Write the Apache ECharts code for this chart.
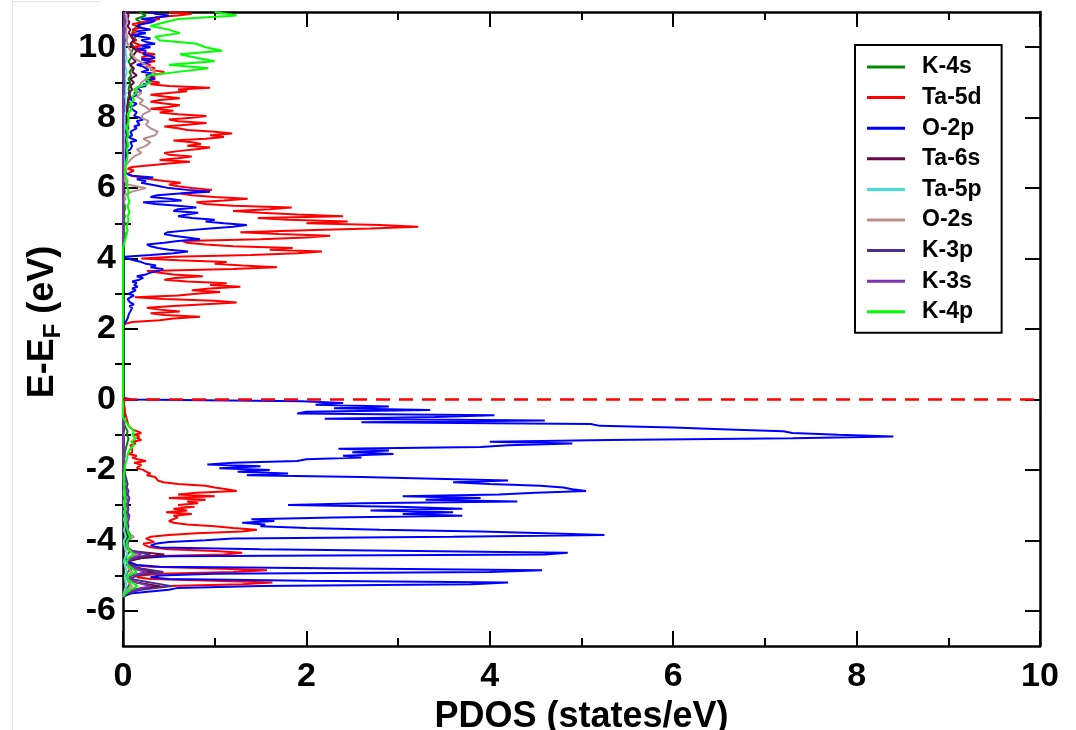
<!DOCTYPE html>
<html>
<head>
<meta charset="utf-8">
<title>PDOS</title>
<script src="https://cdn.jsdelivr.net/npm/echarts@6/dist/echarts.min.js"></script>
<style>
  html, body { margin: 0; padding: 0; background: #ffffff; }
  #chart { width: 1076px; height: 730px; }
</style>
</head>
<body>
<div id="chart"></div>
<script>
// Energy grids (eV, relative to E_F)
// fine grid for the two dominant projections, valence band top -> bottom
const energyVBfine = [
  0.05, 0, -0.05, -0.1, -0.15, -0.2, -0.25, -0.3, -0.35, -0.4,
  -0.45, -0.5, -0.55, -0.6, -0.65, -0.7, -0.75, -0.8, -0.85, -0.9,
  -0.95, -1, -1.05, -1.1, -1.15, -1.2, -1.25, -1.3, -1.35, -1.4,
  -1.45, -1.5, -1.55, -1.6, -1.65, -1.7, -1.75, -1.8, -1.85, -1.9,
  -1.95, -2, -2.05, -2.1, -2.15, -2.2, -2.25, -2.3, -2.35, -2.4,
  -2.45, -2.5, -2.55, -2.6, -2.65, -2.7, -2.75, -2.8, -2.85, -2.9,
  -2.95, -3, -3.05, -3.1, -3.15, -3.2, -3.25, -3.3, -3.35, -3.4,
  -3.45, -3.5, -3.55, -3.6, -3.65, -3.7, -3.75, -3.8, -3.85, -3.9,
  -3.95, -4, -4.05, -4.1, -4.15, -4.2, -4.25, -4.3, -4.35, -4.4,
  -4.45, -4.5, -4.55, -4.6, -4.65, -4.7, -4.75, -4.8, -4.85, -4.9,
  -4.95, -5, -5.05, -5.1, -5.15, -5.2, -5.25, -5.3, -5.35, -5.4,
  -5.45, -5.5, -5.55, -5.6
];
// fine grid, conduction band bottom -> top
const energyCBfine = [
  2, 2.05, 2.1, 2.15, 2.2, 2.25, 2.3, 2.35, 2.4, 2.45,
  2.5, 2.55, 2.6, 2.65, 2.7, 2.75, 2.8, 2.85, 2.9, 2.95,
  3, 3.05, 3.1, 3.15, 3.2, 3.25, 3.3, 3.35, 3.4, 3.45,
  3.5, 3.55, 3.6, 3.65, 3.7, 3.75, 3.8, 3.85, 3.9, 3.95,
  4, 4.05, 4.1, 4.15, 4.2, 4.25, 4.3, 4.35, 4.4, 4.45,
  4.5, 4.55, 4.6, 4.65, 4.7, 4.75, 4.8, 4.85, 4.9, 4.95,
  5, 5.05, 5.1, 5.15, 5.2, 5.25, 5.3, 5.35, 5.4, 5.45,
  5.5, 5.55, 5.6, 5.65, 5.7, 5.75, 5.8, 5.85, 5.9, 5.95,
  6, 6.05, 6.1, 6.15, 6.2, 6.25, 6.3, 6.35, 6.4, 6.45,
  6.5, 6.55, 6.6, 6.65, 6.7, 6.75, 6.8, 6.85, 6.9, 6.95,
  7, 7.05, 7.1, 7.15, 7.2, 7.25, 7.3, 7.35, 7.4, 7.45,
  7.5, 7.55, 7.6, 7.65, 7.7, 7.75, 7.8, 7.85, 7.9, 7.95,
  8, 8.05, 8.1, 8.15, 8.2, 8.25, 8.3, 8.35, 8.4, 8.45,
  8.5, 8.55, 8.6, 8.65, 8.7, 8.75, 8.8, 8.85, 8.9, 8.95,
  9, 9.05, 9.1, 9.15, 9.2, 9.25, 9.3, 9.35, 9.4, 9.45,
  9.5, 9.55, 9.6, 9.65, 9.7, 9.75, 9.8, 9.85, 9.9, 9.95,
  10, 10.05, 10.1, 10.15, 10.2, 10.25, 10.3, 10.35, 10.4, 10.45,
  10.5, 10.55, 10.6, 10.65, 10.7, 10.75, 10.8, 10.85, 10.9, 10.95,
  11
];
// coarse grid for the minor projections
const energyVBcoarse = [
  0, -0.1, -0.2, -0.3, -0.4, -0.5, -0.6, -0.7, -0.8, -0.9,
  -1, -1.1, -1.2, -1.3, -1.4, -1.5, -1.6, -1.7, -1.8, -1.9,
  -2, -2.1, -2.2, -2.3, -2.4, -2.5, -2.6, -2.7, -2.8, -2.9,
  -3, -3.1, -3.2, -3.3, -3.4, -3.5, -3.6, -3.7, -3.8, -3.9,
  -4, -4.1, -4.2, -4.3, -4.4, -4.5, -4.6, -4.7, -4.8, -4.9,
  -5, -5.1, -5.2, -5.3, -5.4, -5.5, -5.6
];
const energyCBcoarse = [
  2, 2.1, 2.2, 2.3, 2.4, 2.5, 2.6, 2.7, 2.8, 2.9,
  3, 3.1, 3.2, 3.3, 3.4, 3.5, 3.6, 3.7, 3.8, 3.9,
  4, 4.1, 4.2, 4.3, 4.4, 4.5, 4.6, 4.7, 4.8, 4.9,
  5, 5.1, 5.2, 5.3, 5.4, 5.5, 5.6, 5.7, 5.8, 5.9,
  6, 6.1, 6.2, 6.3, 6.4, 6.5, 6.6, 6.7, 6.8, 6.9,
  7, 7.1, 7.2, 7.3, 7.4, 7.5, 7.6, 7.7, 7.8, 7.9,
  8, 8.1, 8.2, 8.3, 8.4, 8.5, 8.6, 8.7, 8.8, 8.9,
  9, 9.1, 9.2, 9.3, 9.4, 9.5, 9.6, 9.7, 9.8, 9.9,
  10, 10.1, 10.2, 10.3, 10.4, 10.5, 10.6, 10.7, 10.8, 10.9,
  11
];

// O-2p (states/eV)
const o2pVB = [
  0, 0.1, 1.95, 2.4, 2.1, 2.9, 2.3, 3.35, 2.0, 1.9,
  4.05, 3.4, 2.2, 4.6, 2.6, 5.1, 5.2, 6.0, 6.6, 7.2,
  7.3, 7.8, 8.4, 7.3, 5.3, 4.0, 4.9, 4.2, 3.9, 2.35,
  2.9, 2.5, 2.95, 2.4, 2.6, 2.0, 1.9, 1.2, 0.92, 1.5,
  1.05, 1.6, 1.25, 1.8, 1.35, 2.6, 3.4, 4.2, 3.6, 4.0,
  4.55, 4.8, 4.9, 5.05, 4.5, 4.1, 3.05, 3.9, 3.3, 4.3,
  2.6, 1.8, 3.0, 3.7, 2.7, 3.6, 3.05, 3.7, 2.3, 1.4,
  1.65, 1.3, 1.55, 1.5, 2.0, 2.8, 3.9, 4.6, 5.25, 3.6,
  1.2, 0.9, 0.5, 0.35, 0.3, 0.4, 1.5, 3.2, 4.85, 4.6,
  0.5, 0.2, 0.1, 0.05, 0.1, 0.15, 0.4, 2.5, 4.57, 4.0,
  1.0, 0.4, 0.3, 0.5, 2.0, 4.2, 3.8, 1.5, 0.6, 0.5,
  0.3, 0.1, 0.02, 0
];
const o2pCB = [
  0, 0, 0, 0.01, 0.03, 0.02, 0.05, 0.04, 0.06, 0.05,
  0.08, 0.06, 0.1, 0.07, 0.12, 0.08, 0.1, 0.05, 0.08, 0.12,
  0.06, 0.1, 0.14, 0.1, 0.16, 0.12, 0.15, 0.1, 0.18, 0.22,
  0.15, 0.25, 0.3, 0.38, 0.44, 0.3, 0.36, 0.25, 0.2, 0.12,
  0.05, 0.02, 0.3, 0.55, 0.71, 0.5, 0.38, 0.3, 0.26, 0.45,
  0.6, 0.84, 0.7, 0.55, 0.45, 0.49, 0.7, 0.95, 1.2, 1.35,
  1.1, 0.9, 1.0, 0.75, 0.6, 0.7, 0.82, 0.55, 0.6, 0.8,
  0.6, 0.35, 0.22, 0.64, 0.5, 0.3, 0.37, 0.62, 0.95, 0.7,
  0.5, 0.4, 0.3, 0.2, 0.25, 0.15, 0.33, 0.1, 0.05, 0.02,
  0.01, 0.02, 0.01, 0.02, 0.03, 0.02, 0.04, 0.03, 0.05, 0.04,
  0.06, 0.05, 0.08, 0.06, 0.1, 0.12, 0.08, 0.15, 0.1, 0.06,
  0.1, 0.12, 0.08, 0.1, 0.15, 0.12, 0.18, 0.2, 0.15, 0.22,
  0.18, 0.12, 0.1, 0.15, 0.12, 0.1, 0.08, 0.12, 0.15, 0.1,
  0.12, 0.08, 0.1, 0.15, 0.12, 0.2, 0.18, 0.15, 0.25, 0.22,
  0.3, 0.25, 0.35, 0.3, 0.25, 0.35, 0.2, 0.28, 0.3, 0.22,
  0.15, 0.25, 0.3, 0.2, 0.35, 0.3, 0.22, 0.2, 0.25, 0.15,
  0.3, 0.2, 0.35, 0.25, 0.2, 0.3, 0.2, 0.1, 0.25, 0.15,
  0.3, 0.2, 0.15, 0.2, 0.3, 0.35, 0.2, 0.4, 0.5, 0.35,
  0.3
];

// Ta-5d
const ta5dVB = [
  0, 0, 0.01, 0.01, 0.01, 0.01, 0.02, 0.02, 0.02, 0.03,
  0.03, 0.03, 0.04, 0.04, 0.05, 0.05, 0.06, 0.08, 0.1, 0.15,
  0.2, 0.12, 0.18, 0.15, 0.2, 0.1, 0.14, 0.08, 0.12, 0.1,
  0.08, 0.1, 0.06, 0.15, 0.1, 0.16, 0.25, 0.12, 0.2, 0.15,
  0.15, 0.22, 0.25, 0.3, 0.26, 0.35, 0.4, 0.38, 0.44, 0.6,
  0.9, 1.0, 1.13, 1.24, 0.8, 0.6, 1.0, 0.5, 0.9, 0.7,
  0.82, 0.6, 0.78, 0.55, 0.7, 0.47, 0.75, 0.55, 0.6, 0.5,
  0.5, 0.55, 0.7, 1.0, 1.2, 1.46, 1.3, 0.8, 0.5, 0.3,
  0.25, 0.3, 0.34, 0.22, 0.25, 0.3, 0.5, 1.0, 1.3, 1.1,
  0.3, 0.1, 0.05, 0.03, 0.05, 0.1, 0.3, 1.0, 1.57, 1.2,
  0.4, 0.2, 0.15, 0.3, 1.0, 1.63, 1.3, 0.5, 0.2, 0.15,
  0.1, 0.05, 0.02, 0
];
const ta5dCB = [
  0, 0, 0, 0.03, 0.1, 0.4, 0.55, 0.84, 0.45, 0.3,
  0.62, 0.4, 0.26, 0.55, 0.9, 1.24, 1.0, 0.45, 0.13, 0.6,
  0.8, 1.06, 0.75, 0.95, 1.28, 0.95, 1.13, 0.7, 0.45, 0.57,
  0.87, 0.55, 0.4, 0.26, 1.2, 1.68, 1.3, 1.0, 1.13, 0.6,
  0.2, 0.55, 1.4, 1.9, 2.17, 1.6, 1.85, 1.2, 0.9, 0.7,
  0.65, 1.5, 2.0, 2.26, 1.7, 1.28, 1.9, 2.7, 3.22, 2.8,
  2.0, 2.45, 1.8, 1.47, 2.4, 1.9, 1.5, 1.2, 1.6, 1.84,
  1.2, 0.9, 0.8, 1.1, 1.36, 1.0, 0.75, 0.63, 0.8, 0.97,
  0.75, 0.6, 0.5, 0.63, 0.45, 0.3, 0.2, 0.1, 0.05, 0.08,
  0.12, 0.05, 0.1, 0.3, 0.5, 0.73, 0.4, 0.6, 0.75, 0.5,
  0.45, 0.6, 0.8, 0.95, 0.7, 0.85, 0.75, 0.55, 0.9, 1.1,
  0.95, 1.19, 1.0, 0.7, 0.6, 0.45, 0.7, 0.91, 0.6, 0.5,
  0.75, 0.91, 0.6, 0.4, 0.55, 0.3, 0.5, 0.62, 0.45, 0.3,
  0.4, 0.62, 0.45, 0.3, 0.5, 0.7, 0.6, 0.95, 0.5, 0.3,
  0.4, 0.25, 0.3, 0.35, 0.25, 0.4, 0.45, 0.3, 0.35, 0.25,
  0.3, 0.2, 0.35, 0.3, 0.2, 0.25, 0.35, 0.2, 0.15, 0.2,
  0.1, 0.2, 0.15, 0.1, 0.15, 0.1, 0.12, 0.08, 0.1, 0.15,
  0.1, 0.2, 0.15, 0.1, 0.2, 0.3, 0.4, 0.35, 0.6, 0.75,
  0.5
];

// K-4s
const k4sVB = [
  0, 0, 0, 0, 0, 0, 0, 0.01, 0.03, 0.05,
  0.04, 0.06, 0.05, 0.04, 0.03, 0.02, 0.02, 0.01, 0.01, 0.01,
  0.01, 0.01, 0.01, 0.01, 0.02, 0.01, 0.02, 0.01, 0.02, 0.02,
  0.01, 0.02, 0.02, 0.03, 0.02, 0.02, 0.03, 0.02, 0.03, 0.05,
  0.03, 0.02, 0.04, 0.08, 0.05, 0.03, 0.04, 0.06, 0.1, 0.05,
  0.03, 0.05, 0.08, 0.06, 0.03, 0.01, 0
];
const k4sCB = [
  0, 0, 0, 0, 0, 0, 0, 0, 0, 0,
  0, 0, 0, 0, 0, 0, 0, 0, 0, 0,
  0, 0, 0, 0, 0.01, 0.01, 0.01, 0.02, 0.01, 0.01,
  0.02, 0.01, 0.02, 0.01, 0.02, 0.02, 0.01, 0.02, 0.01, 0.02,
  0.01, 0.02, 0.01, 0.01, 0.02, 0.03, 0.02, 0.03, 0.04, 0.03,
  0.04, 0.03, 0.05, 0.04, 0.03, 0.05, 0.04, 0.06, 0.05, 0.04,
  0.05, 0.06, 0.04, 0.06, 0.07, 0.05, 0.06, 0.08, 0.06, 0.07,
  0.08, 0.06, 0.09, 0.07, 0.1, 0.08, 0.06, 0.09, 0.08, 0.1,
  0.12, 0.09, 0.11, 0.14, 0.1, 0.12, 0.15, 0.2, 0.14, 0.25,
  0.18
];

// Ta-6s
const ta6sVB = [
  0, 0, 0, 0, 0, 0, 0, 0, 0, 0,
  0, 0.01, 0.01, 0.01, 0.01, 0.01, 0.01, 0.01, 0.01, 0.01,
  0.01, 0.01, 0.01, 0.01, 0.02, 0.02, 0.02, 0.03, 0.02, 0.02,
  0.02, 0.02, 0.03, 0.02, 0.03, 0.03, 0.02, 0.03, 0.05, 0.06,
  0.04, 0.03, 0.03, 0.08, 0.45, 0.2, 0.05, 0.04, 0.1, 0.35,
  0.08, 0.05, 0.15, 0.4, 0.1, 0.03, 0
];
const ta6sCB = [
  0, 0, 0, 0, 0, 0, 0, 0, 0, 0,
  0, 0, 0, 0, 0, 0, 0, 0, 0, 0,
  0, 0, 0, 0, 0, 0, 0, 0, 0, 0,
  0, 0, 0, 0, 0, 0, 0, 0, 0, 0.01,
  0.01, 0.01, 0.01, 0.01, 0.01, 0.01, 0.01, 0.02, 0.01, 0.02,
  0.02, 0.02, 0.03, 0.02, 0.03, 0.03, 0.02, 0.03, 0.03, 0.04,
  0.03, 0.04, 0.05, 0.04, 0.05, 0.06, 0.08, 0.06, 0.1, 0.08,
  0.12, 0.08, 0.15, 0.1, 0.12, 0.08, 0.14, 0.1, 0.12, 0.15,
  0.1, 0.08, 0.12, 0.1, 0.06, 0.08, 0.05, 0.07, 0.05, 0.06,
  0.05
];

// Ta-5p
const ta5pVB = [
  0, 0, 0, 0, 0, 0, 0, 0, 0, 0,
  0.01, 0.01, 0.01, 0.01, 0.01, 0.01, 0.01, 0.01, 0.01, 0.01,
  0.01, 0.01, 0.01, 0.01, 0.01, 0.02, 0.01, 0.01, 0.02, 0.01,
  0.01, 0.02, 0.01, 0.02, 0.01, 0.02, 0.02, 0.01, 0.02, 0.03,
  0.01, 0.01, 0.02, 0.03, 0.05, 0.02, 0.01, 0.02, 0.03, 0.04,
  0.02, 0.02, 0.03, 0.04, 0.02, 0.01, 0
];
const ta5pCB = [
  0, 0, 0, 0, 0, 0, 0, 0, 0, 0,
  0, 0, 0, 0, 0, 0, 0, 0, 0, 0,
  0, 0, 0, 0, 0, 0, 0, 0, 0, 0,
  0, 0, 0, 0, 0, 0, 0, 0, 0, 0,
  0, 0, 0, 0, 0, 0.01, 0.01, 0.01, 0.01, 0.01,
  0.01, 0.01, 0.02, 0.01, 0.01, 0.02, 0.01, 0.02, 0.02, 0.01,
  0.02, 0.01, 0.02, 0.02, 0.03, 0.02, 0.02, 0.03, 0.02, 0.03,
  0.03, 0.02, 0.03, 0.04, 0.03, 0.02, 0.03, 0.04, 0.03, 0.03,
  0.02, 0.03, 0.04, 0.03, 0.02, 0.03, 0.02, 0.03, 0.04, 0.03,
  0.02
];

// O-2s
const o2sVB = [
  0, 0, 0, 0, 0, 0, 0, 0, 0, 0,
  0.01, 0.01, 0.01, 0.01, 0.01, 0.01, 0.01, 0.01, 0.01, 0.01,
  0.01, 0.01, 0.01, 0.01, 0.02, 0.02, 0.02, 0.02, 0.02, 0.02,
  0.02, 0.02, 0.03, 0.03, 0.03, 0.03, 0.04, 0.05, 0.06, 0.12,
  0.05, 0.04, 0.04, 0.06, 0.15, 0.08, 0.04, 0.05, 0.06, 0.1,
  0.05, 0.04, 0.06, 0.1, 0.05, 0.02, 0
];
const o2sCB = [
  0, 0, 0, 0, 0, 0, 0, 0, 0, 0,
  0, 0, 0, 0, 0, 0, 0, 0, 0, 0,
  0, 0, 0, 0, 0, 0, 0, 0, 0, 0,
  0, 0, 0, 0, 0, 0, 0.01, 0.01, 0.02, 0.1,
  0.25, 0.05, 0.02, 0.02, 0.03, 0.02, 0.02, 0.05, 0.08, 0.12,
  0.2, 0.15, 0.25, 0.3, 0.22, 0.35, 0.38, 0.3, 0.25, 0.28,
  0.2, 0.22, 0.3, 0.25, 0.18, 0.22, 0.15, 0.2, 0.12, 0.18,
  0.2, 0.25, 0.3, 0.35, 0.3, 0.25, 0.18, 0.12, 0.1, 0.08,
  0.06, 0.05, 0.04, 0.05, 0.03, 0.04, 0.03, 0.04, 0.05, 0.03,
  0.02
];

// K-3p
const k3pVB = [
  0, 0, 0, 0, 0, 0, 0, 0, 0, 0,
  0, 0.01, 0.01, 0.01, 0.01, 0.01, 0.01, 0.01, 0.02, 0.02,
  0.02, 0.02, 0.03, 0.04, 0.05, 0.04, 0.06, 0.05, 0.07, 0.06,
  0.05, 0.06, 0.05, 0.07, 0.06, 0.05, 0.06, 0.05, 0.07, 0.08,
  0.06, 0.05, 0.05, 0.1, 0.3, 0.12, 0.05, 0.06, 0.2, 0.44,
  0.15, 0.08, 0.3, 0.53, 0.2, 0.06, 0
];
const k3pCB = [
  0, 0, 0, 0, 0, 0, 0, 0, 0, 0,
  0, 0, 0, 0, 0, 0, 0, 0, 0, 0,
  0, 0, 0, 0, 0, 0, 0, 0, 0, 0,
  0, 0, 0, 0, 0, 0, 0, 0, 0, 0,
  0, 0, 0, 0, 0, 0, 0, 0, 0, 0,
  0, 0, 0, 0, 0, 0, 0, 0, 0, 0,
  0, 0, 0.01, 0, 0.01, 0.01, 0, 0.01, 0.01, 0.01,
  0.01, 0.01, 0.01, 0.01, 0.01, 0.01, 0.01, 0.01, 0.01, 0.01,
  0.01, 0.01, 0.02, 0.01, 0.01, 0.02, 0.01, 0.02, 0.02, 0.01,
  0.01
];

// K-3s
const k3sVB = [
  0, 0, 0, 0, 0, 0, 0, 0, 0, 0,
  0, 0, 0, 0.01, 0.01, 0.01, 0.01, 0.01, 0.01, 0.01,
  0.01, 0.01, 0.02, 0.02, 0.03, 0.03, 0.04, 0.03, 0.04, 0.05,
  0.04, 0.05, 0.04, 0.05, 0.06, 0.05, 0.04, 0.05, 0.06, 0.07,
  0.05, 0.04, 0.05, 0.08, 0.2, 0.1, 0.04, 0.05, 0.12, 0.25,
  0.1, 0.06, 0.15, 0.3, 0.12, 0.04, 0
];
const k3sCB = [
  0, 0, 0, 0, 0, 0, 0, 0, 0, 0,
  0, 0, 0, 0, 0, 0, 0, 0, 0, 0,
  0, 0, 0, 0, 0, 0, 0, 0, 0, 0,
  0, 0, 0, 0, 0, 0, 0, 0, 0, 0,
  0, 0, 0, 0, 0, 0, 0, 0, 0, 0,
  0, 0, 0, 0, 0, 0, 0, 0, 0, 0,
  0, 0, 0, 0.01, 0, 0.01, 0, 0.01, 0.01, 0,
  0.01, 0.01, 0.01, 0.01, 0.01, 0.01, 0.01, 0.01, 0.01, 0.01,
  0.01, 0.01, 0.01, 0.01, 0.01, 0.01, 0.01, 0.01, 0.01, 0.01,
  0.01
];

// K-4p
const k4pVB = [
  0, 0, 0, 0, 0, 0, 0.02, 0.05, 0.08, 0.12,
  0.1, 0.14, 0.09, 0.12, 0.08, 0.06, 0.05, 0.04, 0.03, 0.02,
  0.02, 0.01, 0.01, 0.01, 0.02, 0.01, 0.02, 0.02, 0.03, 0.02,
  0.02, 0.03, 0.02, 0.03, 0.04, 0.03, 0.04, 0.05, 0.06, 0.08,
  0.05, 0.04, 0.05, 0.08, 0.12, 0.06, 0.04, 0.05, 0.1, 0.15,
  0.06, 0.05, 0.1, 0.16, 0.08, 0.03, 0
];
const k4pCB = [
  0, 0, 0, 0, 0, 0, 0, 0, 0, 0,
  0, 0, 0, 0, 0, 0, 0, 0, 0, 0,
  0, 0, 0, 0, 0.01, 0.02, 0.03, 0.04, 0.05, 0.04,
  0.05, 0.06, 0.05, 0.07, 0.06, 0.05, 0.07, 0.06, 0.05, 0.06,
  0.05, 0.04, 0.05, 0.03, 0.02, 0.02, 0.03, 0.03, 0.04, 0.05,
  0.05, 0.04, 0.06, 0.05, 0.04, 0.06, 0.05, 0.04, 0.05, 0.06,
  0.06, 0.05, 0.08, 0.1, 0.08, 0.12, 0.1, 0.15, 0.12, 0.2,
  0.3, 0.25, 0.28, 0.6, 0.93, 0.5, 1.0, 0.8, 0.62, 1.08,
  0.9, 0.8, 0.4, 0.35, 0.62, 0.5, 0.3, 0.45, 0.6, 1.24,
  1.0
];

// Axis ticks
const yMajorTicks = [-6, -4, -2, 0, 2, 4, 6, 8, 10];
const yMinorTicks = [-5, -3, -1, 1, 3, 5, 7, 9];

const FONT = "'Liberation Sans', Arial, Helvetica, sans-serif";

// One continuous curve per projection: valence band bottom -> top, then conduction band
function curve(eVB, vVB, eCB, vCB) {
  const pts = [];
  for (let i = eVB.length - 1; i >= 0; i--) pts.push([vVB[i], eVB[i]]);
  for (let i = 0; i < eCB.length; i++) pts.push([vCB[i], eCB[i]]);
  return pts;
}

const projections = [
  { name: 'K-4s',  color: '#008b00', data: curve(energyVBcoarse, k4sVB, energyCBcoarse, k4sCB) },
  { name: 'Ta-5d', color: '#ff0000', data: curve(energyVBfine, ta5dVB, energyCBfine, ta5dCB) },
  { name: 'O-2p',  color: '#0000ff', data: curve(energyVBfine, o2pVB, energyCBfine, o2pCB) },
  { name: 'Ta-6s', color: '#67074a', data: curve(energyVBcoarse, ta6sVB, energyCBcoarse, ta6sCB) },
  { name: 'Ta-5p', color: '#40e0d0', data: curve(energyVBcoarse, ta5pVB, energyCBcoarse, ta5pCB) },
  { name: 'O-2s',  color: '#bc8f8f', data: curve(energyVBcoarse, o2sVB, energyCBcoarse, o2sCB) },
  { name: 'K-3p',  color: '#4b2d8f', data: curve(energyVBcoarse, k3pVB, energyCBcoarse, k3pCB) },
  { name: 'K-3s',  color: '#8030b0', data: curve(energyVBcoarse, k3sVB, energyCBcoarse, k3sCB) },
  { name: 'K-4p',  color: '#00ff00', data: curve(energyVBcoarse, k4pVB, energyCBcoarse, k4pCB) }
];

const series = projections.map(function (p, idx) {
  const s = {
    name: p.name,
    type: 'line',
    data: p.data,
    xAxisIndex: 0,
    yAxisIndex: 0,
    showSymbol: false,
    symbol: 'none',
    color: p.color,
    lineStyle: { color: p.color, width: 2 },
    emphasis: { disabled: true },
    silent: true
  };
  if (idx === projections.length - 1) {
    // Fermi level
    s.markLine = {
      silent: true,
      symbol: ['none', 'none'],
      label: { show: false },
      lineStyle: { color: '#ff0000', width: 2.5, type: [14, 9] },
      emphasis: { disabled: true },
      data: [{ yAxis: 0 }]
    };
  }
  return s;
});

const axisLineStyle = { color: '#000', width: 2.5 };
const tickStyle = { color: '#000', width: 2 };

const chart = echarts.init(document.getElementById('chart'), null, { renderer: 'canvas' });
chart.setOption({
  animation: false,
  backgroundColor: '#ffffff',
  grid: { left: 123, right: 36, top: 12, bottom: 84, containLabel: false, outerBoundsMode: 'none' },
  legend: {
    data: projections.map(function (p) { return p.name; }),
    orient: 'vertical',
    left: 855,
    top: 45,
    padding: [10, 20, 9, 12],
    itemGap: 6.6,
    itemWidth: 38,
    itemHeight: 3,
    icon: 'rect',
    selectedMode: false,
    borderColor: '#000',
    borderWidth: 2,
    backgroundColor: '#fff',
    textStyle: {
      fontFamily: FONT, fontSize: 23, fontWeight: 'bold', color: '#000',
      lineHeight: 24, padding: [0, 0, 0, 12]
    }
  },
  xAxis: [
    {
      type: 'value', position: 'bottom', min: 0, max: 10, interval: 2,
      name: 'PDOS (states/eV)', nameLocation: 'middle', nameGap: 34,
      nameTextStyle: { fontFamily: FONT, fontSize: 36, fontWeight: 'bold', color: '#000' },
      axisLine: { show: true, onZero: false, lineStyle: axisLineStyle },
      axisTick: { show: true, inside: true, length: 15, lineStyle: tickStyle },
      minorTick: { show: true, splitNumber: 2, length: 8, lineStyle: tickStyle },
      axisLabel: { fontFamily: FONT, fontSize: 34, fontWeight: 'bold', color: '#000', margin: 14 },
      splitLine: { show: false }
    },
    {
      type: 'value', position: 'top', min: 0, max: 10, interval: 2,
      axisLine: { show: true, onZero: false, lineStyle: axisLineStyle },
      axisTick: { show: true, inside: true, length: 15, lineStyle: tickStyle },
      minorTick: { show: true, splitNumber: 2, length: 8, lineStyle: tickStyle },
      axisLabel: { show: false },
      splitLine: { show: false }
    }
  ],
  yAxis: [
    {
      type: 'value', position: 'left', min: -7, max: 11,
      name: '{a|E-E}{s|F}{a| (eV)}', nameLocation: 'middle', nameGap: 58, nameRotate: 90,
      nameTextStyle: {
        color: '#000',
        padding: [0, 0, 0, 14],
        rich: {
          a: { fontFamily: FONT, fontSize: 36, fontWeight: 'bold', color: '#000', lineHeight: 44 },
          s: { fontFamily: FONT, fontSize: 24, fontWeight: 'bold', color: '#000', lineHeight: 24, verticalAlign: 'bottom' }
        }
      },
      axisLine: { show: true, onZero: false, lineStyle: axisLineStyle },
      axisTick: { show: true, inside: true, length: 15, lineStyle: tickStyle, customValues: yMajorTicks },
      axisLabel: { fontFamily: FONT, fontSize: 34, fontWeight: 'bold', color: '#000', margin: 7, customValues: yMajorTicks },
      splitLine: { show: false }
    },
    {
      type: 'value', position: 'left', min: -7, max: 11,
      axisLine: { show: false },
      axisTick: { show: true, inside: true, length: 8, lineStyle: tickStyle, customValues: yMinorTicks },
      axisLabel: { show: false },
      splitLine: { show: false }
    },
    {
      type: 'value', position: 'right', min: -7, max: 11,
      axisLine: { show: true, onZero: false, lineStyle: axisLineStyle },
      axisTick: { show: true, inside: true, length: 15, lineStyle: tickStyle, customValues: yMajorTicks },
      axisLabel: { show: false },
      splitLine: { show: false }
    },
    {
      type: 'value', position: 'right', min: -7, max: 11,
      axisLine: { show: false },
      axisTick: { show: true, inside: true, length: 8, lineStyle: tickStyle, customValues: yMinorTicks },
      axisLabel: { show: false },
      splitLine: { show: false }
    }
  ],
  graphic: [
    { type: 'line', shape: { x1: 12.5, y1: 0, x2: 12.5, y2: 730 }, style: { stroke: '#e4e4e4', lineWidth: 1 }, silent: true },
    { type: 'line', shape: { x1: 12, y1: 1.5, x2: 100, y2: 1.5 }, style: { stroke: '#e4e4e4', lineWidth: 1 }, silent: true }
  ],
  series: series
});
</script>
</body>
</html>
